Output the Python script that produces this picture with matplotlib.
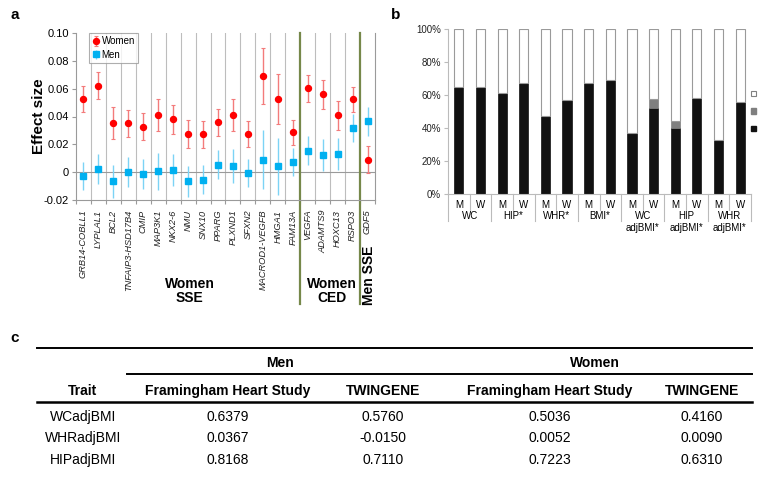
import matplotlib
matplotlib.use('Agg')
import matplotlib.pyplot as plt
import matplotlib.transforms as mtransforms
from matplotlib.lines import Line2D
from matplotlib.patches import Patch
import numpy as np

plt.rcParams['font.family'] = ['Liberation Sans', 'DejaVu Sans']

# ---------------- data: panel a ----------------
genes = ['GRB14-COBLL1', 'LYPLAL1', 'BCL2', 'TNFAIP3-HSD17B4', 'CMIP', 'MAP3K1',
         'NKX2-6', 'NMU', 'SNX10', 'PPARG', 'PLXND1', 'SFXN2', 'MACROD1-VEGFB',
         'HMGA1', 'FAM13A', 'VEGFA', 'ADAMTS9', 'HOXC13', 'RSPO3', 'GDF5']
women = [0.0526, 0.062, 0.0353, 0.035, 0.0327, 0.0413, 0.038, 0.0276, 0.0272,
         0.0358, 0.0409, 0.0274, 0.069, 0.0526, 0.0286, 0.0603, 0.056, 0.0409,
         0.0524, 0.0091]
women_err = [0.0091, 0.0097, 0.0115, 0.0099, 0.0096, 0.0116, 0.0106, 0.0099,
             0.0099, 0.0095, 0.0114, 0.0092, 0.0202, 0.0179, 0.009, 0.0098,
             0.0104, 0.0104, 0.009, 0.0096]
men = [-0.0027, 0.0024, -0.0065, 0.0, -0.001, 0.0007, 0.0017, -0.0065, -0.0053,
       0.0055, 0.0046, -0.0003, 0.0091, 0.0041, 0.0072, 0.0154, 0.0125, 0.0132,
       0.0315, 0.0365]
men_err = [0.010, 0.0108, 0.012, 0.011, 0.0108, 0.0132, 0.0116, 0.011, 0.0102,
           0.0102, 0.0124, 0.010, 0.0213, 0.0202, 0.0101, 0.0104, 0.0114, 0.0116,
           0.010, 0.0106]
group_names = ['Women\nSSE', 'Women\nCED', 'Men SSE']
group_sizes = [15, 4, 1]
yticks_a = [-0.02, 0, 0.02, 0.04, 0.06, 0.08, 0.10]
ytick_labels_a = ['-0.02', '0', '0.02', '0.04', '0.06', '0.08', '0.10']

# ---------------- data: panel b ----------------
traits_b = ['WC', 'HIP*', 'WHR*', 'BMI*', 'WC\nadjBMI*', 'HIP\nadjBMI*', 'WHR\nadjBMI*']
sex_b = ['M', 'W'] * 7
black_pct = [65, 65, 61, 67, 47, 57, 67, 69, 37, 52, 40, 58.4, 33, 56]
gray_pct = [0, 0, 0, 0, 0, 0, 0, 0, 0, 5.5, 4.4, 0, 0, 0]

# ---------------- data: panel c ----------------
table_traits = ['WCadjBMI', 'WHRadjBMI', 'HIPadjBMI']
men_fhs = ['0.6379', '0.0367', '0.8168']
men_twin = ['0.5760', '-0.0150', '0.7110']
women_fhs = ['0.5036', '0.0052', '0.7223']
women_twin = ['0.4160', '0.0090', '0.6310']

W, H = 758, 483
fig = plt.figure(figsize=(W / 100, H / 100), dpi=100)


def fx(px):
    return px / W


def fy(py):
    return 1 - py / H


# ================= panel a =================
axa = fig.add_axes([fx(76), fy(200), fx(375) - fx(76), fy(33) - fy(200)])
x = np.arange(len(genes))
axa.set_xlim(-0.5, len(genes) - 0.5)
axa.set_ylim(-0.02, 0.10)

bounds = np.cumsum(group_sizes)[:-1] - 0.5
for b in np.arange(0.5, len(genes) - 0.5, 1):
    if b in bounds:
        axa.axvline(b, ymin=-0.62, ymax=1, color='#76884A', lw=1.6,
                    clip_on=False, zorder=2)
    else:
        axa.axvline(b, color='#BDBDBD', lw=0.8, zorder=1)
axa.axhline(0, color='#9A9A9A', lw=0.8, zorder=1)

axa.errorbar(x, women, yerr=women_err, fmt='o', color='#FF0000', ms=4.3,
             ecolor='#F37B7B', elinewidth=1.0, capsize=1.2, capthick=0.8,
             label='Women', zorder=4)
axa.errorbar(x, men, yerr=men_err, fmt='s', color='#00B0F0', ms=4.3,
             ecolor='#7CD3F5', elinewidth=1.0, capsize=0, label='Men', zorder=4)

axa.spines['top'].set_visible(False)
for s in ['left', 'bottom', 'right']:
    axa.spines[s].set_color('#9A9A9A')
    axa.spines[s].set_linewidth(0.8)

axa.set_yticks(yticks_a)
axa.set_yticklabels(ytick_labels_a, fontsize=8)
axa.tick_params(axis='y', colors='#9A9A9A', labelcolor='black', length=3,
                width=0.8, pad=2)
axa.set_xticks(x)
axa.set_xticklabels(genes, rotation=90, fontsize=6.7, style='italic', color='#222222')
axa.tick_params(axis='x', length=0, pad=7)
axa.set_xticks(np.arange(-0.5, len(genes), 1), minor=True)
axa.tick_params(axis='x', which='minor', length=3, color='#9A9A9A', width=0.8)
axa.set_ylabel('Effect size', fontsize=11, fontweight='bold')
axa.yaxis.set_label_coords(-0.1, 0.5)

trans_a = mtransforms.blended_transform_factory(axa.transData, axa.transAxes)
starts = np.concatenate([[0], np.cumsum(group_sizes)[:-1]])
for name, st, sz in zip(group_names, starts, group_sizes):
    cx = st + (sz - 1) / 2
    if sz == 1:
        axa.text(cx + 0.1, -0.45, name, transform=trans_a, rotation=90,
                 ha='center', va='center', fontsize=10, fontweight='bold')
    else:
        axa.text(cx + 0.1, -0.545, name, transform=trans_a, ha='center',
                 va='center', fontsize=10, fontweight='bold', linespacing=1.0)

leg = axa.legend(loc='upper left', bbox_to_anchor=(0.045, 1.0), fontsize=7,
                 frameon=True, fancybox=False, edgecolor='#9A9A9A',
                 handlelength=0.7, handletextpad=0.2, borderpad=0.35,
                 labelspacing=0.35, borderaxespad=0)
leg.get_frame().set_linewidth(0.8)
leg.set_zorder(5)

# ================= panel b =================
axb = fig.add_axes([fx(448), fy(194), fx(751) - fx(448), fy(29) - fy(194)])
xb = np.arange(len(sex_b))
black = np.array(black_pct, dtype=float)
gray = np.array(gray_pct, dtype=float)
white = 100 - black - gray
bw = 0.42
axb.bar(xb, black, width=bw, color='#111111', edgecolor='#111111', lw=0.5)
axb.bar(xb, gray, width=bw, bottom=black, color='#7F7F7F', edgecolor='#7F7F7F', lw=0.5)
axb.bar(xb, white, width=bw, bottom=black + gray, color='white',
        edgecolor='#9A9A9A', lw=0.8)
axb.set_xlim(-0.5, len(sex_b) - 0.5)
axb.set_ylim(0, 100)
axb.set_yticks(np.arange(0, 101, 20))
axb.set_yticklabels([f'{v}%' for v in range(0, 101, 20)], fontsize=7)
axb.tick_params(axis='y', colors='#BBBBBB', labelcolor='#222222', length=3,
                width=0.8, pad=2)
axb.set_xticks(xb)
axb.set_xticklabels(sex_b, fontsize=7)
axb.tick_params(axis='x', length=0, pad=4)
for s in ['top', 'right']:
    axb.spines[s].set_visible(False)
for s in ['left', 'bottom']:
    axb.spines[s].set_color('#BBBBBB')
    axb.spines[s].set_linewidth(0.8)

trans_b = mtransforms.blended_transform_factory(axb.transData, axb.transAxes)
for i, t in enumerate(traits_b):
    axb.text(2 * i + 0.5, -0.105, t, transform=trans_b, ha='center', va='top',
             fontsize=7, linespacing=1.2)
for b in np.arange(-0.5, len(sex_b), 2):
    axb.plot([b, b], [0, -0.165], transform=trans_b, color='#BBBBBB', lw=0.8,
             clip_on=False)
for b in np.arange(0.5, len(sex_b), 2):
    axb.plot([b, b], [0, -0.097], transform=trans_b, color='#BBBBBB', lw=0.8,
             clip_on=False)

handles = [Patch(facecolor='white', edgecolor='#808080', lw=0.8),
           Patch(facecolor='#7F7F7F', edgecolor='#7F7F7F'),
           Patch(facecolor='#111111', edgecolor='#111111')]
axb.legend(handles, ['', '', ''], loc='center left', bbox_to_anchor=(0.985, 0.5),
           frameon=False, handlelength=0.45, handleheight=0.45,
           handletextpad=0, labelspacing=0.75, fontsize=7, borderpad=0)

# ================= panel c =================
def hline(y, x0, x1, lw):
    fig.add_artist(Line2D([fx(x0), fx(x1)], [fy(y), fy(y)], color='black', lw=lw))


hline(347.7, 37, 752, 1.4)
hline(373.5, 127, 752, 1.4)
hline(401.5, 37, 752, 1.8)

fig.text(fx(280), fy(363), 'Men', ha='center', va='center', fontsize=10, fontweight='bold')
fig.text(fx(595), fy(363), 'Women', ha='center', va='center', fontsize=10, fontweight='bold')

col_x = [83, 228, 383, 550, 702]
headers = ['Trait', 'Framingham Heart Study', 'TWINGENE', 'Framingham Heart Study', 'TWINGENE']
for cx, h in zip(col_x, headers):
    fig.text(fx(cx), fy(391), h, ha='center', va='center', fontsize=10, fontweight='bold')

row_y = [416.7, 438.3, 460]
for i, ry in enumerate(row_y):
    vals = [table_traits[i], men_fhs[i], men_twin[i], women_fhs[i], women_twin[i]]
    for cx, v in zip(col_x, vals):
        fig.text(fx(cx), fy(ry), v, ha='center', va='center', fontsize=10)

# panel letters
fig.text(fx(15), fy(15), 'a', ha='center', va='center', fontsize=11, fontweight='bold')
fig.text(fx(396), fy(15), 'b', ha='center', va='center', fontsize=11, fontweight='bold')
fig.text(fx(15), fy(338), 'c', ha='center', va='center', fontsize=11, fontweight='bold')

fig.savefig('out.png', dpi=100)
